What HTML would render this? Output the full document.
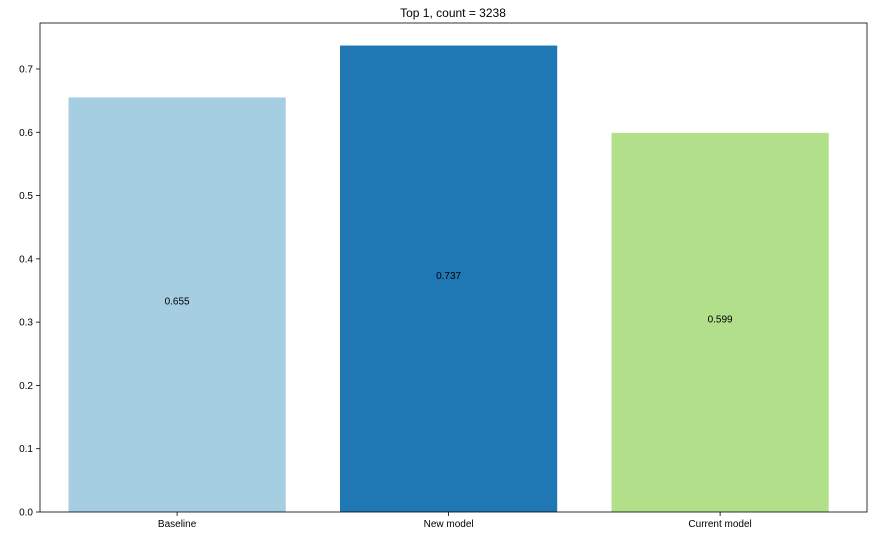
<!DOCTYPE html>
<html><head><meta charset="utf-8"><style>
body{margin:0;background:#fff;}
svg text{font-family:"Liberation Sans","DejaVu Sans",sans-serif;}
</style></head><body>
<svg id="chart" width="874" height="536" xmlns="http://www.w3.org/2000/svg">
<rect width="874" height="536" fill="#fff"/>
<text x="453" y="17" font-size="12" text-anchor="middle">Top 1, count = 3238</text>
<g id="plot"></g>
</svg>
<script>
const categories = ["Baseline", "New model", "Current model"];
const values = [0.655, 0.737, 0.599];
const valueLabels = ["0.655", "0.737", "0.599"];
const colors = ["#a6cee3", "#1f78b4", "#b2df8a"];
const yTicks = [0.0, 0.1, 0.2, 0.3, 0.4, 0.5, 0.6, 0.7];

const L = 40, R = 867, T = 23, B = 512;
const xMin = -0.505, xMax = 2.541;
const yMax = (B - T) / 632.9;
const x = v => L + (v - xMin) / (xMax - xMin) * (R - L);
const y = v => B - v / yMax * (B - T);
const ns = "http://www.w3.org/2000/svg";
const g = document.getElementById("plot");
function mk(tag, attrs, text) {
  const e = document.createElementNS(ns, tag);
  for (const k in attrs) e.setAttribute(k, attrs[k]);
  if (text !== undefined) e.textContent = text;
  g.appendChild(e);
  return e;
}
categories.forEach((c, i) => {
  const x0 = x(i - 0.4), x1 = x(i + 0.4);
  const r = mk("rect", {x: x0, y: y(values[i]), width: x1 - x0, height: y(0) - y(values[i]), fill: colors[i]});
  
  
  const t = mk("text", {x: x(i), y: y(values[i] / 2), "font-size": 10, "text-anchor": "middle"}, valueLabels[i]);
  
  
  mk("line", {x1: x(i), x2: x(i), y1: B, y2: B + 4, stroke: "#000", "stroke-width": 0.8});
  const xl = mk("text", {x: x(i), y: B + 15, "font-size": 10, "text-anchor": "middle"}, c);
  
  
});
yTicks.forEach(v => {
  mk("line", {x1: L - 4, x2: L, y1: y(v), y2: y(v), stroke: "#000", "stroke-width": 0.8});
  const t = mk("text", {x: L - 7, y: y(v) + 3.5, "font-size": 10, "text-anchor": "end"}, v.toFixed(1));
  
  
});
const frame = mk("rect", {x: L, y: T, width: R - L, height: B - T, fill: "none", stroke: "#000", "stroke-width": 0.8});


</script>
</body></html>
